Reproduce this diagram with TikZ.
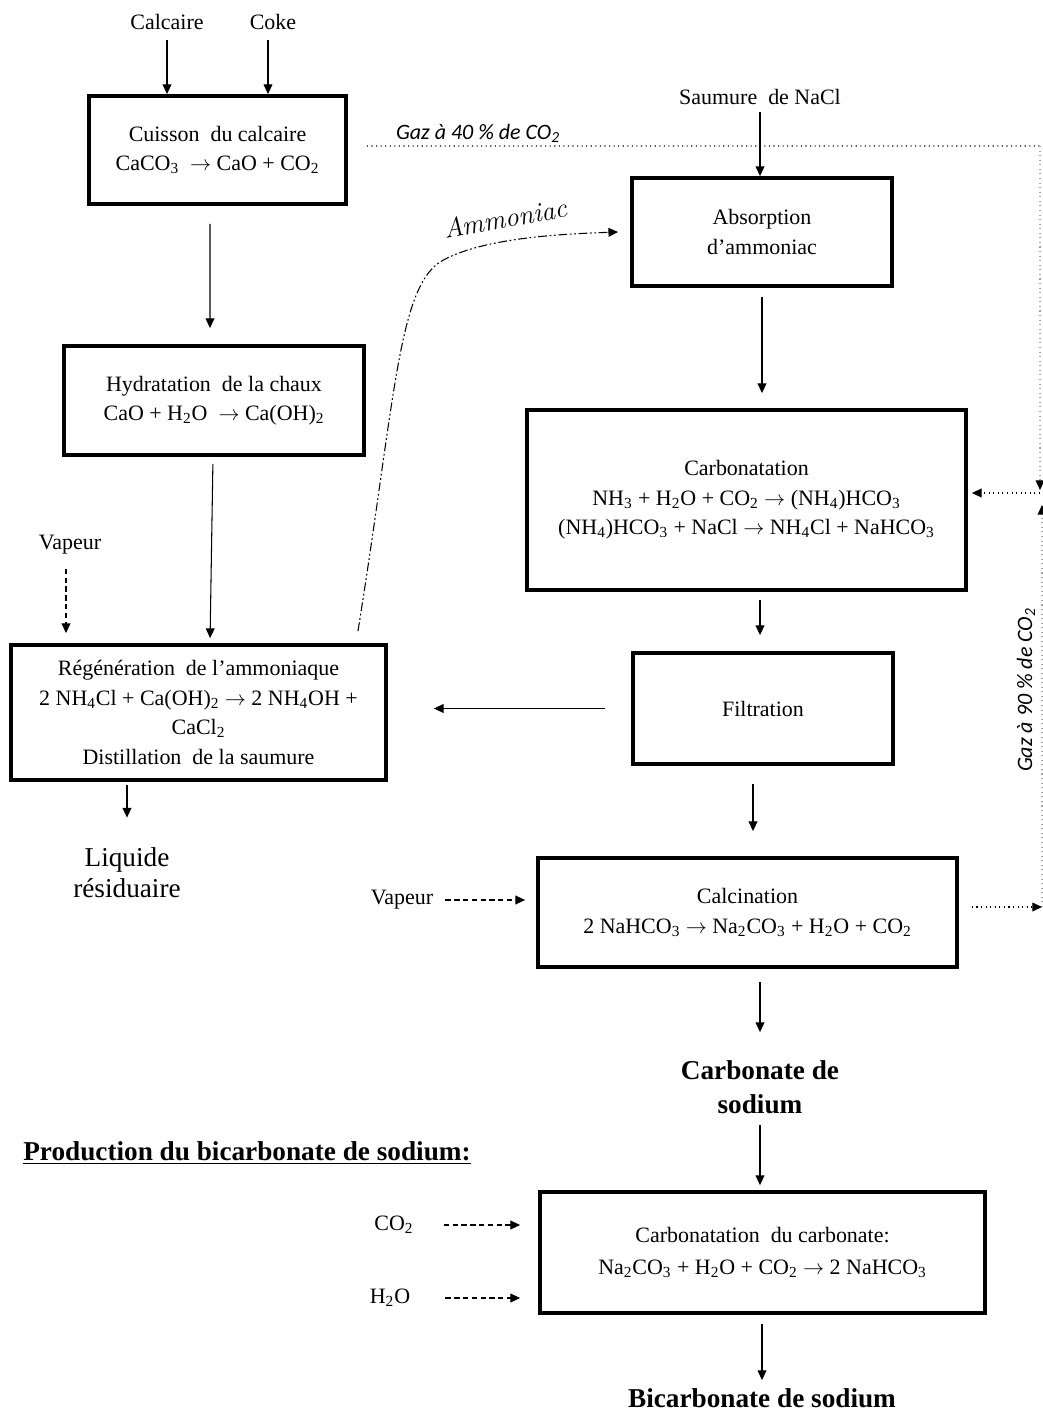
\documentclass[tikz,border=0pt]{standalone}
\usepackage{fontspec}
\setmainfont{Liberation Serif}
\newfontfamily\gazfont{Carlito}
\usetikzlibrary{arrows.meta,positioning}
\newcommand{\su}[1]{\textsubscript{#1}}
\newcommand{\fl}{$\rightarrow$}

\begin{document}
\begin{tikzpicture}[x=0.02cm,y=-0.02cm]
\tikzstyle{every node}+=[font=\fontsize{12.5}{16.8}\selectfont]
\tikzstyle{box}=[draw,line width=2.2pt,align=center,inner sep=0pt]
\tikzstyle{lbl}=[inner sep=0pt,align=center]
\tikzstyle{arr}=[-{Triangle[length=5.5pt,width=5pt,color=black]},line width=0.6pt]
\tikzstyle{dasharr}=[arr,dash pattern=on 3pt off 2pt]
\tikzstyle{gasarr}=[arr,dotted]
\tikzstyle{big}=[font=\fontsize{15.5}{17.6}\selectfont]
\tikzstyle{bigbf}=[font=\bfseries\fontsize{15.5}{19.3}\selectfont]
\tikzstyle{gaz}=[font=\fontsize{12.5}{15}\gazfont\itshape]
\useasboundingbox (0,0) rectangle (1043,1412);

\node[box,minimum width=5.14cm,minimum height=2.16cm] (cuis) at (217.5,150) {Cuisson\ \ du calcaire\\CaCO\su{3}\ \ \fl{} CaO + CO\su{2}};
\node[box,minimum width=6cm,minimum height=2.18cm] (hydr) at (214,400.5) {Hydratation\ \ de la chaux\\CaO + H\su{2}O\ \ \fl{} Ca(OH)\su{2}};
\node[box,minimum width=7.5cm,minimum height=2.7cm] (rege) at (198.5,712.5) {Régénération\ \ de l’ammoniaque\\2 NH\su{4}Cl + Ca(OH)\su{2} \fl{} 2 NH\su{4}OH +\\CaCl\su{2}\\Distillation\ \ de la saumure};
\node[box,minimum width=5.2cm,minimum height=2.16cm] (abso) at (762,232) {Absorption\\d’ammoniac};
\node[box,minimum width=8.78cm,minimum height=3.6cm] (carbo) at (746.5,500) {Carbonatation\\NH\su{3} + H\su{2}O + CO\su{2} \fl{} (NH\su{4})HCO\su{3}\\(NH\su{4})HCO\su{3} + NaCl \fl{} NH\su{4}Cl + NaHCO\su{3}};
\node[box,minimum width=5.2cm,minimum height=2.22cm] (filt) at (763,708.5) {Filtration};
\node[box,minimum width=8.38cm,minimum height=2.18cm] (calci) at (747.5,912.5) {Calcination\\2 NaHCO\su{3} \fl{} Na\su{2}CO\su{3} + H\su{2}O + CO\su{2}};
\node[box,minimum width=8.9cm,minimum height=2.42cm,font=\fontsize{12.5}{18}\selectfont] (bicbox) at (762.5,1252.5) {Carbonatation\ \ du carbonate:\\Na\su{2}CO\su{3} + H\su{2}O + CO\su{2} \fl{} 2 NaHCO\su{3}};

\node[lbl] (calc) at (167,22) {Calcaire};
\node[lbl] (coke) at (273,22) {Coke};
\node[lbl] (saum) at (760,97) {Saumure\ \ de NaCl};
\node[lbl] (vap1) at (70,545) {Vapeur};
\node[lbl] (vap2) at (402,900) {Vapeur};
\node[lbl,big] (liq) at (127,873) {Liquide\\résiduaire};
\node[lbl,bigbf] (carb) at (760,1087) {Carbonate de\\sodium};
\node[lbl,bigbf] (prod) at (247,1153) {\underline{Production du bicarbonate de sodium:}};
\node[lbl] (co2) at (394,1225) {CO\su{2}};
\node[lbl] (h2o) at (390,1298) {H\su{2}O};
\node[lbl,bigbf] (bic) at (762,1398) {Bicarbonate de sodium};
\node[lbl,gaz] (gas40) at (478,133) {Gaz à 40 \% de CO\su{2}};
\node[lbl,gaz,rotate=90] (gas90) at (1026,690) {Gaz à 90 \% de CO\su{2}};
\node[lbl,font=\fontfamily{lmr}\fontsize{15.5}{17}\selectfont\itshape,rotate=10] (amm) at (505,218) {Ammoniac};

\coordinate (gtop) at (1040,146);
\coordinate (gmid) at (1040,493);
\coordinate (gbot) at (1042,907);

\draw[arr,shorten <=0.2cm] (calc.south) -- (calc.south |- cuis.north);
\draw[arr,shorten <=0.2cm] ([xshift=-0.1cm]coke.south) -- ([xshift=-0.1cm]coke.south |- cuis.north);
\draw[arr,shorten <=0.36cm,shorten >=0.32cm] ([xshift=-0.15cm]cuis.south) -- ([xshift=-0.08cm]hydr.north);
\draw[arr,shorten <=0.14cm,shorten >=0.1cm] ([xshift=-0.02cm]hydr.south) -- ([xshift=0.23cm]rege.north);
\draw[dasharr,shorten <=0.28cm,shorten >=0.2cm] ([xshift=-0.08cm]vap1.south) -- ([xshift=-0.08cm]vap1.south |- rege.north);
\draw[arr,shorten <=0.06cm,shorten >=0.6cm] (rege.south -| liq) -- (liq.north);
\draw[arr,shorten <=0.14cm] (saum.south) -- (saum.south |- abso.north);
\draw[arr,shorten <=0.18cm,shorten >=0.3cm] (abso.south) -- (abso.south |- carbo.north);
\draw[arr,shorten <=0.16cm,shorten >=0.32cm] ([xshift=-0.06cm]filt.north |- carbo.south) -- ([xshift=-0.06cm]filt.north);
\draw[arr,shorten <=0.52cm,shorten >=0.92cm] (filt.west) -- (filt.west -| rege.east);
\draw[arr,shorten <=0.36cm,shorten >=0.5cm] ([xshift=-0.2cm]filt.south) -- ([xshift=-0.2cm]filt.south |- calci.north);
\draw[dasharr,shorten <=0.24cm,shorten >=0.22cm] (vap2.east) -- (vap2.east -| calci.west);
\draw[arr,shorten <=0.26cm,shorten >=0.56cm] (calci.south -| carb) -- (carb.north);
\draw[arr,shorten <=0.22cm,shorten >=0.1cm] (carb.south) -- (carb.south |- bicbox.north);
\draw[dasharr,shorten <=0.6cm,shorten >=0.36cm] (co2.east) -- (co2.east -| bicbox.west);
\draw[dasharr,shorten <=0.7cm,shorten >=0.36cm] (h2o.east) -- (h2o.east -| bicbox.west);
\draw[arr,shorten <=0.18cm,shorten >=0.16cm] (bicbox.south -| bic) -- (bic.north);

\draw[-{Triangle[length=5.5pt,width=5pt]},line width=0.6pt,dash pattern=on 5pt off 1.5pt on 1pt off 1.5pt on 1pt off 1.5pt] ([xshift=3.19cm,yshift=0.24cm]rege.north) .. controls (395,400) and (398,290) .. (440,262) .. controls (480,238) and (560,234) .. ([xshift=-0.24cm]abso.west);

\draw[dotted,line width=0.6pt] ([xshift=0.38cm,yshift=0.08cm]cuis.east) -- (gtop);
\draw[gasarr,gray!70] (gtop) -- ([yshift=0.06cm]gmid);
\draw[gasarr,gray!70] (gbot) -- ([yshift=-0.24cm]gbot |- gmid);
\draw[gasarr,shorten >=0.08cm] (gmid) -- (gmid -| carbo.east);
\draw[gasarr,shorten <=0.26cm] (calci.east |- gbot) -- (gbot);
\end{tikzpicture}
\end{document}
